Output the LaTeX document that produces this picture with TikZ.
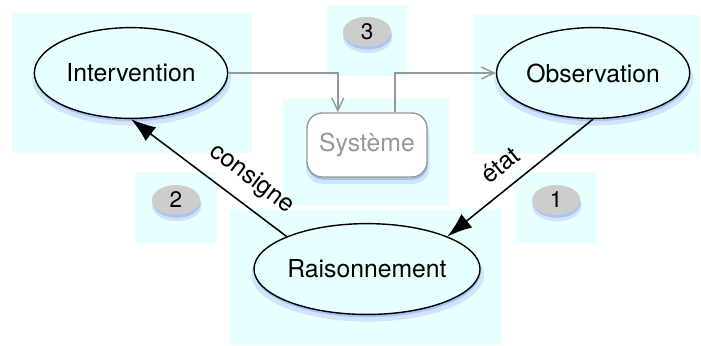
\documentclass[tikz,border=0pt]{standalone}
\usepackage{fontspec}
\setmainfont{TeX Gyre Heros}
\usepackage{tikz}
\usetikzlibrary{arrows.meta}
\usetikzlibrary{positioning}
\usetikzlibrary{shapes.geometric}
\usetikzlibrary{shadows}
\definecolor{zonecyan}{RGB}{232,255,255}
\definecolor{bubblegray}{RGB}{205,205,205}
\definecolor{flowgray}{RGB}{152,152,152}
\definecolor{shadowblue}{RGB}{70,90,225}
\tikzstyle{every node}+=[inner sep=0pt]
\tikzstyle{soft shadow} = [drop shadow={shadow xshift=0.5pt, shadow yshift=-2pt, opacity=.25, fill=shadowblue}, drop shadow={shadow xshift=0.5pt, shadow yshift=-4pt, shadow scale=1.03, opacity=.15, fill=shadowblue}]
\tikzstyle{zone} = [fill=zonecyan]
\tikzstyle{concept} = [ellipse, draw, line width=1pt, fill=zonecyan, font=\fontsize{17.6}{20}\selectfont, minimum height=2.27cm, soft shadow]
\tikzstyle{sysbox} = [rectangle, draw=flowgray, line width=1pt, rounded corners=0.38cm, fill=white, text=flowgray, font=\fontsize{17.6}{20}\selectfont, minimum width=3cm, minimum height=1.6cm, soft shadow]
\tikzstyle{bubble} = [ellipse, fill=bubblegray, font=\fontsize{16}{18}\selectfont, minimum width=1.2cm, minimum height=0.75cm, soft shadow]
\tikzstyle{line} = [draw, line width=1.1pt, -{Latex[length=0.62cm,width=0.43cm]}]
\tikzstyle{flow} = [draw=flowgray, line width=1pt, -{Straight Barb[length=0.32cm,width=0.3cm]}]
\tikzstyle{edgetext} = [font=\fontsize{17.6}{20}\selectfont, sloped, above=9pt]

\begin{document}
\begin{tikzpicture}[x=0.025cm, y=-0.025cm]
  \useasboundingbox (0,0) rectangle (701,345);
  % Highlight zones
  \fill [zone] (12,13) rectangle (252,153);
  \fill [zone] (327,5) rectangle (407,76);
  \fill [zone] (473,15) rectangle (700,154);
  \fill [zone] (283,99) rectangle (449,205);
  \fill [zone] (135,172) rectangle (217,243);
  \fill [zone] (515,172) rectangle (597,243);
  \fill [zone] (230,209) rectangle (502,345);
  % Place nodes
  \node [concept, minimum width=4.83cm] (intv) at (131,73) {Intervention};
  \node [concept, minimum width=4.83cm, right of=intv, node distance=11.55cm] (obs) {Observation};
  \node [sysbox] (sys) at (367,145) {Système};
  \node [concept, minimum width=5.65cm, below of=sys, node distance=3.1cm] (rais) {Raisonnement};
  \node [bubble, above of=sys, node distance=2.83cm] (n3) {3};
  \node [bubble] (n2) at (176,200) {2};
  \node [bubble, right of=n2, node distance=9.5cm] (n1) {1};
  % Draw edges
  \path [flow] (intv.east) -| ([xshift=-0.73cm]sys.north);
  \path [flow] ([xshift=0.7cm]sys.north) |- (obs.west);
  \path [line] (obs.south) -- node [edgetext, pos=0.54] {état} (rais.north east);
  \path [line] (rais.north west) -- node [edgetext, pos=0.32] {consigne} (intv.south);
\end{tikzpicture}
\end{document}
